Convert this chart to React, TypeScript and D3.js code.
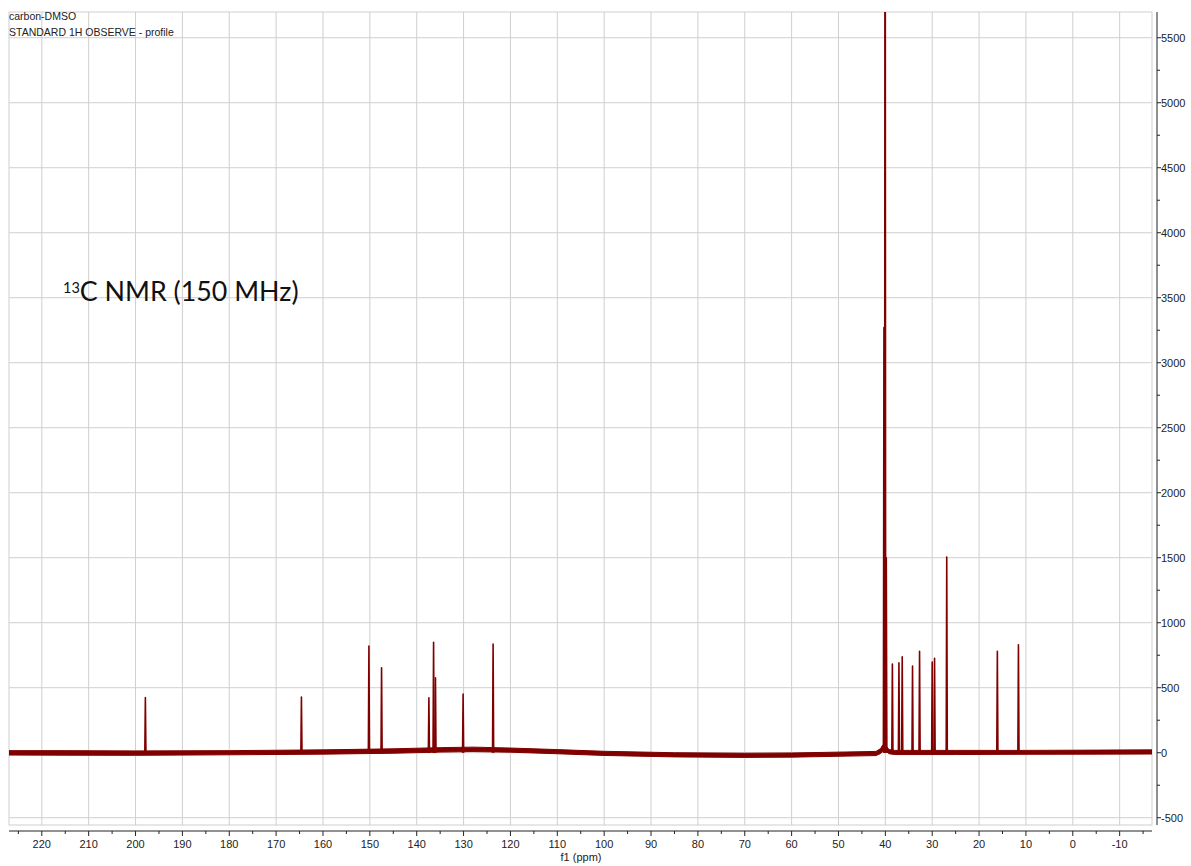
import React from "react";
import * as d3 from "d3";

// header text
const titleLines = ["carbon-DMSO", "STANDARD 1H OBSERVE - profile"];
const nucleus = "13";
const annotation = "C NMR (150 MHz)";
const xLabel = "f1 (ppm)";

// axis ticks
const xMajorTicks = d3.range(-10, 221, 10);
const xMinorTicks = d3.range(-15, 226, 10);
const yMajorTicks = d3.range(-500, 5501, 500);
const yMinorTicks = d3.range(-250, 5500, 500);

// peaks: [ppm, intensity]
const peakPpm = [197.9, 164.6, 150.2, 147.5, 137.4, 136.4, 136.0, 130.1, 123.7,
  40.3, 40.05, 39.8, 38.5, 37.1, 36.4, 34.2, 32.7, 30.0, 29.5, 26.9, 16.1, 11.6];
const peakHeight = [425, 428, 821, 654, 423, 849, 577, 451, 836,
  3270, 9000, 1500, 682, 692, 738, 667, 780, 698, 726, 1505, 780, 831];

// baseline noise envelope
const basePpm = [227, 215, 200, 180, 160, 145, 135, 128, 120, 110, 100, 85, 70, 60, 48, 42, 41, 40.6, 40.2, 39.2, 38, 25, 10, -5, -17];
const baseLow = [-18, -19, -20, -16, -11, -4, 5, 9, 4, -8, -21, -32, -36, -34, -26, -22, -6, 12, 22, -8, -14, -14, -12, -11, -10];
const baseHigh = [16, 16, 14, 16, 22, 30, 39, 43, 36, 24, 11, 0, -4, -2, 6, 10, 32, 58, 66, 24, 18, 18, 18, 20, 22];

const W = 1191;
const H = 866;
const plot = { left: 9, right: 1152, top: 12, bottom: 825 };
const red = "#800000";
const grid = "#cfcfcf";
const font = "'Liberation Sans', Arial, Helvetica, sans-serif";

export default function App() {
  const x = d3.scaleLinear().domain([227, -16.9]).range([plot.left, plot.right]);
  const y = d3.scaleLinear().domain([-556, 5698]).range([plot.bottom, plot.top]);

  const band = d3.area<number>()
    .x((i) => x(basePpm[i]))
    .y0((i) => y(baseLow[i]))
    .y1((i) => y(baseHigh[i]));

  const peakLine = d3.line<[number, number]>()
    .x((d) => x(d[0]))
    .y((d) => y(d[1]));

  const axisY = 831;
  const axisX = 1157;

  return (
    <svg width={W} height={H} style={{ position: "absolute", left: 0, top: 0, display: "block" }}>
      <rect x={0} y={0} width={W} height={H} fill="#fff" />
      <defs>
        <clipPath id="plotClip">
          <rect x={plot.left} y={plot.top} width={plot.right - plot.left} height={plot.bottom - plot.top} />
        </clipPath>
      </defs>

      {/* grid */}
      {xMajorTicks.map((t) => (
        <line key={"gx" + t} x1={x(t)} x2={x(t)} y1={plot.top} y2={plot.bottom} stroke={grid} strokeWidth={1} />
      ))}
      {yMajorTicks.map((t) => (
        <line key={"gy" + t} x1={plot.left} x2={plot.right} y1={y(t)} y2={y(t)} stroke={grid} strokeWidth={1} />
      ))}
      <rect x={plot.left} y={plot.top} width={plot.right - plot.left} height={plot.bottom - plot.top}
        fill="none" stroke={grid} strokeWidth={1} />

      {/* spectrum */}
      <g clipPath="url(#plotClip)">
        <path d={band(d3.range(basePpm.length)) || ""} fill={red} stroke={red} strokeWidth={1} strokeLinejoin="round" />
        {peakPpm.map((p, i) => (
          <path key={"pk" + i}
            d={peakLine([[p + 0.12, 0], [p, peakHeight[i]], [p - 0.12, 0]]) || ""}
            fill={red} fillOpacity={0.8} stroke={red} strokeWidth={1.6} strokeLinejoin="round" />
        ))}
      </g>

      {/* x axis */}
      <line x1={plot.left} x2={plot.right} y1={axisY} y2={axisY} stroke="#222" strokeWidth={1} />
      {xMajorTicks.map((t) => (
        <g key={"xt" + t}>
          <line x1={x(t)} x2={x(t)} y1={axisY} y2={axisY + 5} stroke="#222" />
          <text x={x(t)} y={848} textAnchor="middle" fontSize={11} fontFamily={font} fill="#222">{t}</text>
        </g>
      ))}
      {xMinorTicks.map((t) => (
        <line key={"xm" + t} x1={x(t)} x2={x(t)} y1={axisY} y2={axisY + 3} stroke="#222" />
      ))}
      <text x={581} y={861} textAnchor="middle" fontSize={11} fontFamily={font} fill="#222">{xLabel}</text>

      {/* y axis */}
      <line x1={axisX} x2={axisX} y1={plot.top} y2={plot.bottom} stroke="#222" strokeWidth={1} />
      {yMajorTicks.map((t) => (
        <g key={"yt" + t}>
          <line x1={axisX} x2={axisX + 4} y1={y(t)} y2={y(t)} stroke="#222" />
          <text x={axisX + 4} y={y(t) + 4} fontSize={11} fontFamily={font} fill="#222">{t}</text>
        </g>
      ))}
      {yMinorTicks.map((t) => (
        <line key={"ym" + t} x1={axisX} x2={axisX + 3} y1={y(t)} y2={y(t)} stroke="#222" />
      ))}

      {/* titles */}
      {titleLines.map((s, i) => (
        <text key={"tl" + i} x={9} y={19.5 + i * 16} fontSize={10.5} fontFamily={font} fill="#222">{s}</text>
      ))}
      <text x={63} y={301} fontFamily="Lato, 'Open Sans', sans-serif" fill="#111">
        <tspan fontSize={14.5} dy={-8}>{nucleus}</tspan>
        <tspan fontSize={26.8} dy={8}>{annotation}</tspan>
      </text>
    </svg>
  );
}
